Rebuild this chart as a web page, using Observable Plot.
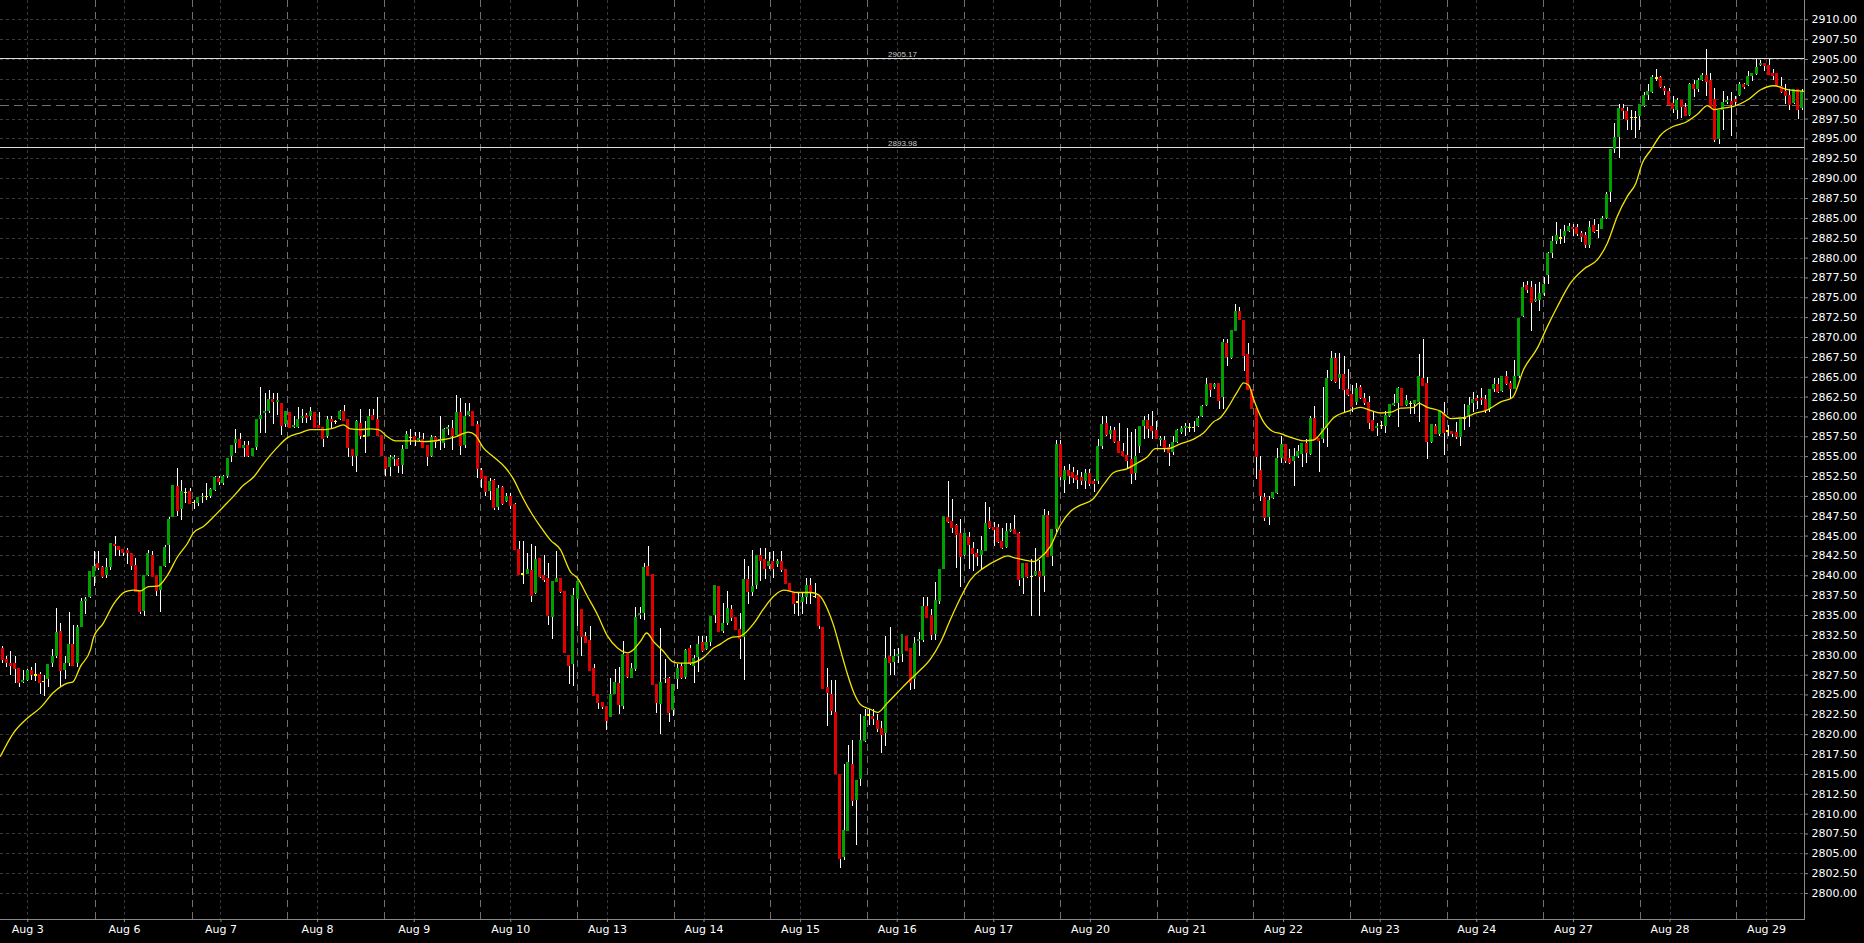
<!DOCTYPE html>
<html><head><meta charset="utf-8">
<script src="https://cdn.jsdelivr.net/npm/d3@7"></script>
<script src="https://cdn.jsdelivr.net/npm/@observablehq/plot@0.6"></script>
<style>
html,body{margin:0;padding:0;background:#000;overflow:hidden}
#chart svg{display:block}
</style></head><body><div id="chart"></div>
<script>
// Hourly candles, Aug 2 - Aug 29
const open = [
2830.8,2829.5,2829.0,2829.0,2828.3,2826.6,2826.8,2828.1,2827.5,2827.6,2826.7,2826.9,2829.0,2829.8,2833.0,2828.1,2829.0,2831.3,2828.9,2833.5,2836.8,2837.3,2839.8,2841.6,2841.0,2840.0,2841.0,2844.0,2843.7,2843.3,2843.2,2842.8,2841.3,2838.0,2835.5,2840.0,2842.5,2840.0,2838.2,2841.2,2843.8,2847.3,2851.3,2848.3,2850.5,2850.6,2849.2,2849.1,2849.9,2850.0,2850.0,2850.8,2852.3,2851.6,2852.5,2855.0,2856.7,2857.1,2856.0,2856.4,2855.0,2856.2,2859.7,2860.4,2860.7,2862.2,2861.8,2861.7,2859.0,2860.5,2858.7,2858.7,2859.8,2860.2,2860.0,2860.5,2858.9,2858.7,2857.5,2859.7,2859.4,2859.7,2860.7,2859.7,2855.9,2855.0,
2859.2,2857.6,2857.5,2860.2,2859.7,2857.7,2854.9,2853.6,2854.6,2854.6,2853.9,2855.9,2857.4,2857.6,2857.0,2857.1,2856.4,2855.0,2857.4,2857.0,2856.7,2858.4,2858.6,2857.7,2860.5,2856.4,2860.2,2860.7,2859.0,2853.3,2852.5,2850.6,2852.0,2848.6,2851.1,2849.3,2850.0,2849.0,2843.3,2840.2,2840.2,2840.7,2837.8,2842.2,2840.0,2839.6,2834.8,2839.1,2839.6,2838.0,2830.0,2828.8,2837.0,2835.7,2832.4,2831.9,2828.3,2825.0,2824.1,2823.6,2822.1,2825.0,2826.5,2823.6,2830.1,2827.1,2828.2,2835.0,2835.3,2841.2,2840.2,2826.3,2823.8,2826.9,2827.1,2823.1,2826.9,2828.6,2827.2,2830.8,2828.6,2829.7,2831.6,2830.7,2831.6,2835.0,2838.7,
2833.0,2834.0,2835.8,2834.8,2833.3,2832.2,2839.5,2837.9,2838.8,2842.5,2842.0,2841.2,2841.8,2841.4,2841.8,2840.8,2839.0,2837.9,2836.7,2836.7,2837.3,2838.8,2837.4,2837.4,2833.5,2826.0,2825.0,2822.8,2815.0,2804.5,2807.8,2816.3,2811.7,2814.4,2819.2,2822.5,2822.25,2821.8,2820.8,2820.1,2829.8,2829.1,2829.9,2830.1,2832.4,2830.8,2826.9,2831.7,2831.9,2836.1,2835.0,2832.6,2836.8,2840.8,2847.4,2846.8,2846.3,2845.3,2842.5,2844.8,2843.5,2842.8,2842.5,2843.1,2846.9,2846.1,2846.1,2844.3,2843.6,2845.6,2845.8,2845.3,2839.6,2841.5,2839.9,2840.0,2840.5,2839.9,2847.6,2842.4,2845.8,2856.5,2852.0,2853.3,2853.0,2852.6,2852.4,
2851.9,2852.9,2851.9,2851.9,2856.3,2859.2,2857.8,2858.3,2856.9,2855.7,2855.2,2854.7,2852.9,2856.3,2858.8,2859.5,2858.8,2858.3,2857.0,2857.0,2856.1,2855.5,2856.8,2858.1,2858.6,2858.7,2858.7,2858.8,2860.1,2861.5,2864.2,2863.7,2864.2,2862.4,2869.3,2867.3,2870.8,2873.3,2872.1,2867.8,2863.4,2861.1,2853.2,2849.9,2847.4,2849.7,2850.4,2854.8,2856.5,2854.8,2854.4,2855.0,2855.3,2856.6,2855.3,2859.8,2857.3,2857.1,2858.5,2864.6,2867.3,2864.9,2865.3,2863.5,2862.8,2861.8,2863.7,2862.3,2861.8,2859.5,2858.6,2858.9,2858.8,2860.0,2861.5,2861.7,2863.6,2861.5,2861.7,2861.6,2861.8,2864.8,2864.2,2856.8,2858.8,2857.8,
2860.4,2858.2,2858.2,2858.0,2857.4,2859.8,2860.0,2861.7,2862.3,2862.3,2862.2,2860.9,2863.4,2864.1,2863.2,2865.1,2864.2,2863.4,2865.1,2872.7,2876.5,2876.3,2874.5,2874.7,2875.5,2877.8,2880.6,2882.1,2882.5,2882.7,2883.3,2883.8,2883.8,2883.1,2882.8,2881.6,2884.1,2883.5,2883.6,2885.0,2888.2,2893.7,2895.2,2898.8,2898.5,2897.7,2897.7,2897.8,2899.1,2900.5,2900.9,2902.7,2902.7,2901.3,2901.0,2899.5,2898.6,2899.8,2898.9,2898.0,2901.8,2901.2,2902.4,2903.0,2902.3,2900.0,2894.9,2898.6,2899.6,2899.7,2900.0,2900.5,2901.8,2901.7,2902.9,2903.1,2904.3,2904.5,2904.3,2903.2,2903.2,2901.6,2901.0,2900.5,2899.5,2901.2,2898.8
];
const high = [
2831.1,2829.9,2830.5,2829.9,2828.3,2828.1,2828.2,2828.5,2829.0,2827.8,2827.4,2828.8,2830.7,2835.9,2834.0,2829.9,2835.4,2833.7,2833.8,2837.1,2837.3,2840.5,2843.0,2843.0,2841.2,2842.2,2844.0,2845.0,2843.7,2843.3,2843.4,2842.8,2842.2,2838.0,2840.0,2843.2,2843.0,2840.0,2841.2,2843.8,2847.4,2851.3,2853.5,2852.0,2851.0,2851.0,2849.5,2849.8,2850.4,2851.6,2851.0,2852.5,2852.5,2852.6,2854.7,2856.4,2858.4,2857.9,2856.9,2856.9,2856.0,2859.7,2863.7,2862.9,2863.3,2862.9,2862.9,2861.7,2860.7,2860.6,2860.0,2861.2,2861.0,2860.4,2861.2,2860.5,2860.6,2858.7,2860.0,2860.0,2859.6,2860.8,2861.5,2859.7,2855.9,2859.6,
2860.9,2859.4,2861.0,2861.0,2862.5,2857.7,2854.9,2855.2,2855.2,2854.8,2856.4,2858.2,2858.4,2858.1,2858.1,2857.9,2856.4,2857.7,2857.5,2860.0,2858.6,2858.9,2859.6,2862.7,2862.3,2861.7,2861.7,2860.7,2859.4,2853.5,2852.5,2852.2,2852.1,2851.4,2851.2,2850.4,2850.4,2849.1,2844.3,2844.3,2842.8,2843.9,2843.7,2842.2,2842.6,2841.6,2839.3,2843.0,2839.6,2838.0,2830.0,2838.4,2839.3,2835.7,2832.8,2833.6,2828.8,2825.0,2824.1,2823.6,2827.1,2828.2,2828.4,2831.7,2830.1,2829.0,2836.0,2836.0,2841.6,2843.7,2840.2,2826.3,2833.4,2829.45,2827.2,2826.3,2828.8,2829.0,2830.7,2831.2,2830.0,2832.4,2832.4,2832.4,2834.9,2838.7,2838.7,
2836.5,2838.0,2836.3,2834.8,2835.3,2842.0,2841.2,2843.2,2842.5,2843.5,2843.4,2842.9,2843.1,2842.0,2843.1,2840.8,2839.0,2837.9,2837.9,2837.9,2839.7,2839.7,2839.0,2837.4,2833.5,2828.3,2826.8,2826.8,2815.0,2816.3,2818.6,2819.3,2814.2,2822.6,2823.2,2823.2,2823.2,2822.6,2821.7,2832.4,2833.5,2830.7,2830.9,2832.6,2832.4,2830.8,2832.2,2832.8,2837.3,2837.3,2835.8,2839.1,2840.8,2847.4,2851.9,2849.6,2846.4,2847.1,2845.3,2845.4,2844.2,2843.3,2845.0,2849.2,2848.6,2846.7,2846.5,2846.0,2846.6,2846.6,2847.6,2845.4,2841.5,2841.5,2842.0,2843.5,2841.9,2848.3,2848.1,2845.8,2857.0,2857.0,2853.7,2854.0,2853.6,2853.2,2853.0,
2853.4,2853.4,2852.1,2857.2,2860.1,2860.1,2858.8,2858.7,2859.2,2856.7,2858.5,2858.0,2858.4,2858.8,2860.1,2860.3,2860.7,2859.4,2857.6,2857.6,2856.5,2857.6,2858.4,2858.8,2859.2,2859.2,2859.4,2860.0,2861.5,2864.8,2864.2,2864.2,2864.2,2869.8,2869.8,2870.8,2874.1,2873.8,2872.1,2869.3,2863.4,2861.1,2855.0,2850.4,2850.0,2850.4,2856.0,2857.6,2856.5,2855.9,2856.0,2856.4,2856.6,2857.2,2860.1,2861.3,2857.3,2863.7,2865.9,2868.3,2868.0,2868.0,2867.6,2866.0,2864.0,2864.2,2864.0,2863.0,2862.6,2860.5,2859.2,2859.4,2860.7,2861.5,2862.8,2863.7,2863.6,2862.7,2862.0,2862.0,2867.8,2869.8,2865.0,2859.0,2859.0,2860.6,
2861.8,2858.9,2858.2,2859.3,2859.6,2861.6,2862.4,2863.1,2862.7,2863.6,2862.7,2863.4,2864.8,2864.9,2865.1,2865.7,2864.5,2867.1,2872.4,2876.9,2877.1,2877.1,2876.7,2876.9,2877.5,2880.7,2882.7,2884.5,2883.6,2884.1,2884.3,2884.2,2884.2,2883.4,2883.2,2884.6,2884.8,2884.2,2885.2,2888.2,2893.6,2897.0,2899.3,2899.3,2898.9,2898.6,2898.4,2899.3,2900.9,2901.8,2903.0,2903.7,2902.8,2901.6,2901.4,2900.3,2900.1,2899.9,2899.5,2902.0,2902.3,2902.6,2903.2,2906.3,2903.2,2901.4,2898.6,2901.0,2900.3,2900.8,2900.3,2902.1,2902.0,2903.5,2903.2,2905.0,2904.9,2904.5,2905.0,2903.7,2903.2,2902.7,2901.9,2901.2,2901.2,2901.2,2901.2
];
const low = [
2829.0,2828.4,2827.4,2826.5,2826.0,2826.5,2826.7,2826.8,2826.7,2825.0,2824.8,2825.9,2828.4,2829.6,2826.0,2827.0,2828.6,2828.8,2828.5,2833.5,2835.1,2837.2,2838.6,2840.7,2839.6,2839.6,2840.7,2842.4,2842.4,2842.4,2841.4,2840.7,2838.1,2835.1,2834.9,2839.9,2840.0,2837.4,2835.4,2841.0,2841.6,2847.3,2847.5,2847.0,2849.1,2849.0,2848.3,2848.7,2849.1,2849.5,2849.7,2850.6,2851.4,2851.4,2852.2,2854.3,2855.4,2856.0,2854.9,2854.9,2855.0,2855.8,2857.9,2857.9,2860.4,2859.0,2860.2,2857.7,2858.7,2858.5,2858.5,2858.5,2859.2,2859.2,2859.6,2858.5,2858.5,2856.1,2857.3,2858.5,2859.0,2859.6,2859.4,2854.9,2853.7,2853.0,
2857.1,2855.4,2857.5,2859.6,2857.7,2855.0,2852.5,2852.5,2853.7,2852.9,2852.7,2855.9,2856.4,2856.3,2856.9,2856.1,2853.8,2854.9,2856.0,2855.8,2856.0,2857.7,2855.8,2857.7,2855.1,2856.0,2860.0,2858.9,2852.3,2851.0,2850.0,2849.5,2848.2,2848.2,2848.9,2849.2,2848.3,2843.3,2840.2,2838.9,2840.2,2836.6,2837.6,2839.7,2839.1,2833.8,2832.0,2839.1,2837.8,2830.4,2826.3,2826.1,2833.6,2829.9,2831.6,2828.1,2824.8,2823.2,2823.2,2820.5,2822.1,2825.0,2822.6,2823.2,2827.1,2827.1,2828.0,2834.5,2834.4,2840.1,2826.4,2822.7,2820.0,2826.5,2821.5,2822.3,2825.7,2827.0,2827.0,2828.7,2826.5,2827.8,2830.4,2830.6,2831.1,2834.0,2832.8,
2832.75,2833.7,2834.3,2833.3,2829.5,2826.8,2836.4,2837.4,2838.3,2839.3,2839.5,2840.8,2839.7,2841.0,2840.4,2838.9,2838.1,2835.1,2834.9,2835.1,2836.4,2836.4,2837.2,2833.2,2825.8,2821.0,2822.4,2815.1,2803.1,2804.2,2807.8,2810.9,2806.1,2813.5,2819.0,2821.1,2821.1,2820.3,2817.6,2818.5,2827.4,2827.4,2828.9,2829.1,2830.5,2825.5,2825.7,2829.8,2831.6,2834.7,2831.8,2831.8,2836.4,2840.8,2846.6,2845.3,2840.9,2838.5,2842.4,2840.8,2840.6,2841.2,2840.8,2843.0,2845.8,2843.7,2844.1,2843.3,2843.5,2845.4,2845.2,2838.7,2837.6,2839.7,2834.9,2839.9,2834.9,2837.9,2842.3,2841.2,2845.5,2852.0,2850.3,2851.5,2851.6,2850.9,2851.4,
2850.9,2851.3,2850.5,2851.5,2855.9,2857.5,2857.1,2856.7,2855.5,2855.0,2853.4,2851.5,2852.0,2855.4,2857.1,2857.3,2857.1,2857.1,2856.3,2855.5,2853.8,2855.2,2856.7,2857.8,2857.6,2858.0,2858.0,2858.7,2859.9,2861.3,2862.4,2863.4,2860.9,2860.9,2866.3,2867.2,2870.7,2872.2,2865.7,2863.5,2860.9,2852.1,2849.4,2846.8,2846.3,2849.6,2850.2,2854.2,2854.2,2854.0,2851.3,2854.8,2853.6,2854.2,2855.1,2857.1,2853.0,2856.7,2856.2,2864.5,2864.2,2863.4,2860.5,2862.6,2860.5,2861.5,2862.2,2861.5,2858.4,2858.2,2857.6,2858.4,2857.9,2859.9,2861.3,2858.7,2861.3,2861.3,2860.3,2860.3,2859.3,2863.8,2854.7,2856.7,2857.8,2857.6,
2855.1,2857.6,2857.4,2857.2,2856.3,2858.3,2858.7,2860.6,2861.0,2861.4,2860.4,2860.6,2863.1,2862.9,2863.1,2864.0,2862.2,2863.4,2864.8,2872.5,2875.6,2870.8,2874.4,2873.3,2875.2,2876.7,2880.0,2881.7,2881.7,2881.8,2883.2,2882.7,2882.7,2881.9,2881.2,2881.2,2883.1,2882.5,2883.6,2884.8,2887.0,2893.2,2892.6,2897.4,2896.1,2896.1,2895.1,2896.1,2898.9,2899.9,2900.7,2902.2,2901.4,2900.5,2899.3,2898.2,2897.4,2897.6,2897.8,2897.8,2900.2,2900.9,2902.2,2900.3,2899.1,2894.5,2894.3,2896.1,2899.3,2895.3,2899.1,2900.3,2901.2,2901.6,2902.2,2903.0,2904.1,2903.5,2903.0,2902.4,2901.6,2900.7,2899.3,2898.6,2899.3,2897.4,2898.6
];
const close = [
2829.5,2829.1,2828.8,2828.4,2826.6,2826.8,2828.1,2827.6,2827.5,2826.6,2826.7,2828.8,2829.8,2832.8,2828.1,2828.9,2831.3,2828.8,2833.5,2836.7,2837.0,2840.5,2841.2,2841.1,2840.0,2841.0,2844.0,2843.8,2843.3,2843.0,2843.0,2841.3,2838.1,2835.5,2840.0,2842.8,2840.0,2838.2,2841.2,2843.5,2847.0,2851.3,2848.3,2850.6,2850.5,2849.1,2849.2,2849.8,2850.0,2850.0,2850.8,2852.3,2851.9,2852.5,2854.7,2856.4,2857.1,2856.2,2856.4,2855.2,2856.0,2859.7,2860.2,2860.7,2862.2,2862.0,2862.0,2859.0,2860.7,2858.7,2858.9,2859.6,2860.0,2860.0,2860.6,2858.7,2858.7,2857.3,2859.7,2859.5,2859.4,2860.7,2859.6,2856.2,2855.2,2859.4,
2857.7,2857.6,2860.0,2859.7,2857.7,2855.2,2853.6,2854.9,2854.9,2853.9,2855.9,2857.7,2857.4,2857.2,2857.2,2856.2,2855.0,2857.4,2857.0,2857.1,2858.4,2858.6,2857.7,2860.5,2856.4,2860.0,2860.7,2859.0,2853.5,2852.3,2850.6,2851.8,2848.6,2850.9,2849.1,2850.0,2848.9,2843.3,2840.2,2840.2,2840.8,2837.5,2842.0,2840.0,2839.6,2835.0,2839.3,2839.6,2838.0,2830.4,2828.8,2837.5,2839.3,2832.4,2831.6,2828.1,2825.0,2824.1,2823.6,2821.8,2825.0,2826.5,2823.8,2830.1,2827.4,2828.3,2834.7,2835.2,2841.0,2840.1,2826.4,2824.1,2826.5,2827.1,2822.8,2826.3,2828.3,2827.2,2830.6,2829.0,2829.5,2831.3,2830.6,2831.6,2834.8,2838.7,2833.0,
2834.0,2835.8,2834.8,2833.3,2832.2,2839.5,2838.1,2838.6,2842.5,2842.0,2840.9,2841.8,2841.0,2841.8,2840.8,2839.1,2838.2,2836.6,2836.7,2837.3,2838.8,2837.9,2837.4,2833.8,2825.8,2825.4,2823.1,2815.1,2804.5,2807.9,2816.5,2811.7,2814.2,2819.2,2822.2,2822.5,2822.1,2820.8,2820.1,2829.6,2829.1,2829.8,2830.1,2832.6,2830.6,2826.6,2831.5,2831.9,2836.1,2834.8,2832.6,2836.8,2840.8,2847.4,2846.9,2846.1,2845.2,2842.5,2845.3,2844.0,2842.9,2842.4,2843.1,2846.6,2846.1,2845.9,2844.3,2843.6,2845.6,2845.8,2845.4,2839.6,2841.5,2840.0,2839.9,2840.5,2840.0,2847.6,2842.5,2845.8,2856.5,2852.5,2853.2,2852.7,2852.4,2852.2,2852.0,
2852.9,2851.7,2851.7,2856.2,2859.0,2857.8,2858.3,2856.9,2855.6,2855.2,2854.5,2852.9,2855.0,2858.8,2859.5,2858.6,2858.3,2857.3,2857.2,2856.1,2855.5,2856.8,2858.3,2858.5,2858.8,2858.7,2858.7,2859.8,2861.3,2864.0,2863.5,2864.0,2862.1,2869.3,2867.6,2870.8,2873.3,2872.3,2867.8,2863.5,2861.1,2855.0,2850.1,2847.4,2849.4,2850.4,2854.8,2856.5,2854.5,2854.3,2855.0,2855.6,2856.6,2855.5,2859.8,2857.3,2857.1,2858.5,2864.8,2867.3,2864.5,2865.3,2863.5,2862.8,2861.3,2863.5,2862.5,2861.8,2859.3,2858.3,2858.8,2858.9,2860.1,2861.5,2861.7,2863.6,2861.5,2862.0,2861.7,2862.0,2865.0,2864.0,2857.0,2859.0,2858.0,2860.6,
2858.1,2858.2,2858.0,2857.6,2859.6,2859.8,2861.4,2862.2,2862.1,2862.2,2860.9,2863.4,2864.1,2863.2,2865.1,2864.2,2863.6,2865.1,2872.4,2876.3,2876.1,2874.5,2874.7,2875.5,2876.7,2880.6,2882.1,2882.8,2882.5,2883.3,2884.0,2883.7,2883.1,2882.8,2881.8,2883.8,2883.4,2883.5,2885.0,2888.0,2893.6,2895.1,2898.8,2898.6,2897.5,2897.7,2897.7,2899.3,2900.5,2901.0,2902.7,2902.7,2901.6,2901.1,2899.4,2898.9,2899.8,2899.1,2898.0,2901.8,2901.4,2902.3,2903.0,2902.3,2899.1,2894.9,2898.6,2899.6,2899.8,2899.4,2899.8,2901.8,2901.6,2902.8,2903.2,2904.0,2904.5,2904.3,2903.1,2903.0,2901.8,2901.0,2900.5,2899.4,2901.2,2898.8,2901.0
];

// 20-period moving average, sampled along the chart (bar position, value)
const maBar = [-0.5,2.6,6.0,9.1,12.2,15.6,16.8,18.7,21.1,21.8,24.2,26.6,29.5,31.4,33.1,35.0,37.2,39.6,42.0,44.4,45.8,48.2,50.6,53.0,55.4,57.8,60.2,62.6,66.0,68.4,71.5,73.9,77.0,79.4,81.8,83.5,85.9,88.3,90.2,92.4,94.3,97.9,101.0,105.1,108.7,111.8,113.5,115.4,117.8,120.7,122.6,124.3,126.7,129.1,131.5,133.9,136.3,138.0,140.4,142.8,145.2,147.6,150.0,151.4,153.1,154.6,156.2,158.6,160.8,162.7,165.1,168.2,170.6,172.3,174.7,177.1,180.3,182.6,185.0,187.5,190.8,193.9,195.9,198.0,199.5,201.1,202.8,204.3,205.9,208.3,210.0,212.4,214.8,217.2,219.6,222.7,225.1,227.5,229.9,232.3,235.5,238.8,241.2,242.7,245.1,247.5,249.1,251.5,253.9,256.3,258.7,261.6,264.3,266.7,270.0,272.4,274.8,276.7,279.6,282.7,285.9,288.3,290.7,292.3,294.0,296.4,297.9,299.1,300.3,302.4,304.8,306.7,309.9,312.3,314.7,317.1,319.5,322.8,326.0,328.4,330.8,333.2,335.6,338.7,339.9,342.0,345.2,347.6,350.7,353.1,356.4,359.6,362.4,365.1,368.4,370.8,373.2,376.4,379.5,382.8,385.2,387.6,390.0,392.0,393.6,395.6,398.0,401.1,404.0,406.8,409.2,410.7,413.1,415.5,418.8,422.0,425.1,428.5,432.5];
const maVal = [2817.3,2820.2,2822.1,2823.4,2825.3,2826.5,2826.6,2828.6,2830.7,2832.2,2834.05,2836.4,2838.0,2838.2,2838.1,2838.65,2838.7,2840.1,2842.4,2844.1,2845.4,2846.2,2847.4,2848.7,2850.0,2851.4,2852.4,2854.1,2856.2,2857.4,2858.0,2858.4,2858.4,2858.6,2859.0,2858.5,2858.4,2858.5,2858.4,2857.5,2857.0,2857.0,2856.9,2857.1,2857.5,2858.1,2857.7,2856.1,2855.0,2853.6,2852.2,2850.4,2848.1,2846.2,2844.5,2843.3,2840.5,2839.7,2837.4,2835.1,2832.4,2830.9,2830.3,2830.7,2831.75,2832.8,2831.75,2830.5,2829.2,2829.0,2829.0,2829.7,2830.9,2831.4,2832.2,2832.4,2834.0,2835.8,2837.4,2838.2,2837.9,2837.9,2837.6,2835.8,2833.7,2830.7,2827.6,2825.3,2823.8,2823.2,2822.8,2824.0,2825.3,2826.6,2827.8,2829.5,2831.6,2834.5,2837.2,2839.5,2841.0,2842.0,2842.5,2842.3,2842.0,2841.8,2842.3,2843.7,2846.4,2848.1,2848.9,2849.6,2851.5,2853.0,2853.5,2854.2,2855.0,2856.0,2856.0,2856.6,2857.2,2858.0,2859.4,2859.9,2861.1,2863.2,2864.3,2864.0,2862.2,2859.6,2858.2,2857.9,2857.3,2857.0,2857.1,2858.4,2859.9,2860.7,2861.2,2860.8,2860.5,2860.6,2861.1,2861.2,2861.7,2861.2,2860.7,2859.8,2859.9,2860.4,2860.9,2861.9,2862.45,2866.0,2868.7,2871.4,2873.9,2876.9,2878.6,2879.8,2881.9,2885.3,2887.8,2889.4,2892.0,2893.6,2895.5,2896.6,2897.1,2898.1,2899.2,2898.7,2898.9,2899.1,2899.9,2901.2,2901.7,2901.2,2901.0];

// axes, labels, levels
const dayLabels = ["Aug 3","Aug 6","Aug 7","Aug 8","Aug 9","Aug 10","Aug 13","Aug 14","Aug 15","Aug 16","Aug 17","Aug 20","Aug 21","Aug 22","Aug 23","Aug 24","Aug 27","Aug 28","Aug 29"];
const dayLabelBars = [6.05,29.24,52.42,75.61,98.8,121.98,145.17,168.36,191.54,214.73,237.91,261.1,284.29,307.47,330.66,353.84,377.03,400.22,423.4];
const daySeparatorBars = [22.23,45.51,68.46,91.74,114.78,138.07,161.35,184.39,207.6,230.81,254.0,277.28,300.32,323.6,346.74,369.93,393.21,416.25];
const priceTicks = [2800,2802.5,2805,2807.5,2810,2812.5,2815,2817.5,2820,2822.5,2825,2827.5,2830,2832.5,2835,2837.5,2840,2842.5,2845,2847.5,2850,2852.5,2855,2857.5,2860,2862.5,2865,2867.5,2870,2872.5,2875,2877.5,2880,2882.5,2885,2887.5,2890,2892.5,2895,2897.5,2900,2902.5,2905,2907.5,2910];
const priceRange = [2796.73, 2912.43];
const levels = [2905.17, 2893.98];
const bidPrice = 2899.26;

const UP = "#00a000", DOWN = "#e00000", DOJI = "#ffff00";
const bars = open.map((o, i) => ({i, open: o, high: high[i], low: low[i], close: close[i]}));
const N = bars.length;
const colorOf = d => d.close > d.open ? UP : d.close < d.open ? DOWN : DOJI;
const ma = maBar.map((b, k) => ({b, v: maVal[k]}));
const labelOf = new Map(dayLabelBars.map((b, k) => [b, dayLabels[k]]));
const FONT = "DejaVu Sans, Verdana, sans-serif";

const chart = Plot.plot({
  width: 1864, height: 943,
  marginLeft: 0, marginRight: 60, marginTop: 0, marginBottom: 24,
  style: {background: "#000", color: "#fff", fontFamily: FONT},
  x: {type: "linear", domain: [-0.5, N - 0.5]},
  y: {type: "linear", domain: priceRange},
  marks: [
    Plot.ruleY(priceTicks, {stroke: "#3a3a3a", strokeDasharray: "3,3", shapeRendering: "crispEdges"}),
    Plot.ruleX(dayLabelBars, {stroke: "#3a3a3a", strokeDasharray: "3,3", shapeRendering: "crispEdges"}),
    Plot.ruleX(daySeparatorBars, {stroke: "#707070", strokeDasharray: "7,5", shapeRendering: "crispEdges"}),
    Plot.ruleY([bidPrice], {stroke: "#707070", strokeDasharray: "9,5", shapeRendering: "crispEdges"}),
    Plot.ruleY(levels, {stroke: "#dcdcdc", shapeRendering: "crispEdges"}),
    Plot.text(levels, {y: d => d, text: d => d.toFixed(2), lineAnchor: "bottom", dy: -1, fill: "#c8c8c8", fontSize: 8, fontFamily: "Liberation Sans, Arial, sans-serif"}),
    Plot.ruleX(bars, {x: "i", y1: "low", y2: "high", stroke: "#ffffff", strokeWidth: 1, shapeRendering: "crispEdges"}),
    Plot.rect(bars.filter(d => d.open !== d.close), {x1: d => d.i - 0.36, x2: d => d.i + 0.36, y1: "open", y2: "close", fill: colorOf, shapeRendering: "crispEdges"}),
    Plot.ruleY(bars, {y: "close", x1: d => d.i - 0.36, x2: d => d.i + 0.36, stroke: colorOf, strokeWidth: 1.5, shapeRendering: "crispEdges"}),
    Plot.line(ma, {x: "b", y: "v", stroke: "#f2e600", strokeWidth: 1.3, curve: "monotone-x"}),
    Plot.frame({anchor: "right", stroke: "#8a8a8a"}),
    Plot.frame({anchor: "bottom", stroke: "#8a8a8a"}),
    Plot.axisY(priceTicks, {anchor: "right", tickFormat: d => d.toFixed(2), tickSize: 3, tickPadding: 4, stroke: "#8a8a8a", fill: "#ffffff", fontSize: 11, fontFamily: FONT}),
    Plot.axisX(dayLabelBars, {anchor: "bottom", tickFormat: d => labelOf.get(d), tickSize: 3, tickPadding: 3, stroke: "#8a8a8a", fill: "#ffffff", fontSize: 11, fontFamily: FONT})
  ]
});
document.getElementById("chart").appendChild(chart);
</script>
</body></html>
